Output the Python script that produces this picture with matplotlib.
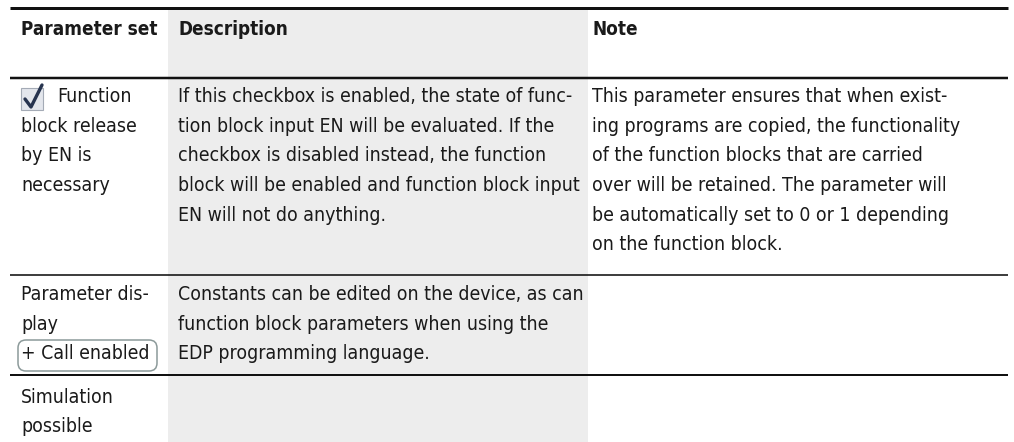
import matplotlib
matplotlib.use("Agg")
import matplotlib.pyplot as plt
from matplotlib import font_manager as fm
from matplotlib.patches import Rectangle, FancyBboxPatch

# table content (line breaks as in the reference)
headers = ["Parameter set", "Description", "Note"]
col1_row1 = ["Function", "block release", "by EN is", "necessary"]
col2_row1 = ["If this checkbox is enabled, the state of func-",
             "tion block input EN will be evaluated. If the",
             "checkbox is disabled instead, the function",
             "block will be enabled and function block input",
             "EN will not do anything."]
col3_row1 = ["This parameter ensures that when exist-",
             "ing programs are copied, the functionality",
             "of the function blocks that are carried",
             "over will be retained. The parameter will",
             "be automatically set to 0 or 1 depending",
             "on the function block."]
col1_row2 = ["Parameter dis-", "play", "+ Call enabled"]
col2_row2 = ["Constants can be edited on the device, as can",
             "function block parameters when using the",
             "EDP programming language."]
col1_row3 = ["Simulation", "possible"]

# pick a narrow font if one is installed
fonts = fm.fontManager.ttflist
names = {f.name for f in fonts}
stretch = "normal"
if "Liberation Sans Narrow" in names:
    family = "Liberation Sans Narrow"
elif any(f.name == "DejaVu Sans" and f.stretch in ("condensed", "semi-condensed", 400) for f in fonts):
    family = "DejaVu Sans"
    stretch = "condensed"
else:
    family = "Roboto"

W, H = 1014, 442
fig = plt.figure(figsize=(W / 100, H / 100), dpi=100)
ax = fig.add_axes([0, 0, 1, 1])
ax.set_xlim(0, W)
ax.set_ylim(H, 0)
ax.axis("off")
renderer = fig.canvas.get_renderer()


def fit_size(s, target, weight="normal"):
    t = ax.text(0, 0, s, fontsize=20, family=family, fontstretch=stretch, fontweight=weight)
    w = t.get_window_extent(renderer).width
    t.remove()
    return 20 * target / w


fs = fit_size("Constants can be edited on the device, as can", 384) * 1.05
fs_h = fit_size("Parameter set", 136, "bold")
txt = dict(family=family, fontstretch=stretch, color="#1a1a1a", va="baseline", ha="left")

# grey description column
ax.add_patch(Rectangle((168, 9), 420, H - 9, facecolor="#ededed", edgecolor="none", zorder=0))

# horizontal rules
for y, lw in [(7.5, 3), (78, 2.5), (274.5, 1.6), (375, 2)]:
    ax.plot([10, 1008], [y, y], color="#111111", lw=lw * 0.72, solid_capstyle="butt", zorder=2)

# header
for x, s in zip([21, 178, 592], headers):
    ax.text(x, 35, s, fontsize=fs_h, fontweight="bold", **txt)

step = 29.7
# row 1
for i, s in enumerate(col1_row1):
    ax.text(57 if i == 0 else 21, 102 + i * step, s, fontsize=fs, **txt)
for i, s in enumerate(col2_row1):
    ax.text(178, 102 + i * step, s, fontsize=fs, **txt)
for i, s in enumerate(col3_row1):
    ax.text(592, 102 + i * step, s, fontsize=fs, **txt)

# checkbox icon
ax.add_patch(Rectangle((21, 88), 22, 22, facecolor="#e3e6ec", edgecolor="#a4abb6", lw=0.8, zorder=3))
ax.plot([25, 31, 42], [99, 107, 85], color="#27344f", lw=2.4, solid_capstyle="round",
        solid_joinstyle="round", zorder=4)

# row 2
for i, s in enumerate(col1_row2):
    ax.text(21, 300 + i * step, s, fontsize=fs, **txt)
for i, s in enumerate(col2_row2):
    ax.text(178, 300 + i * step, s, fontsize=fs, **txt)
ax.add_patch(FancyBboxPatch((18, 340), 139, 31, boxstyle="round,pad=0,rounding_size=8",
                            facecolor="none", edgecolor="#8c9a9a", lw=1.1, zorder=3))

# row 3
for i, s in enumerate(col1_row3):
    ax.text(21, 403 + i * 29, s, fontsize=fs, **txt)

fig.savefig("out.png", dpi=100)
